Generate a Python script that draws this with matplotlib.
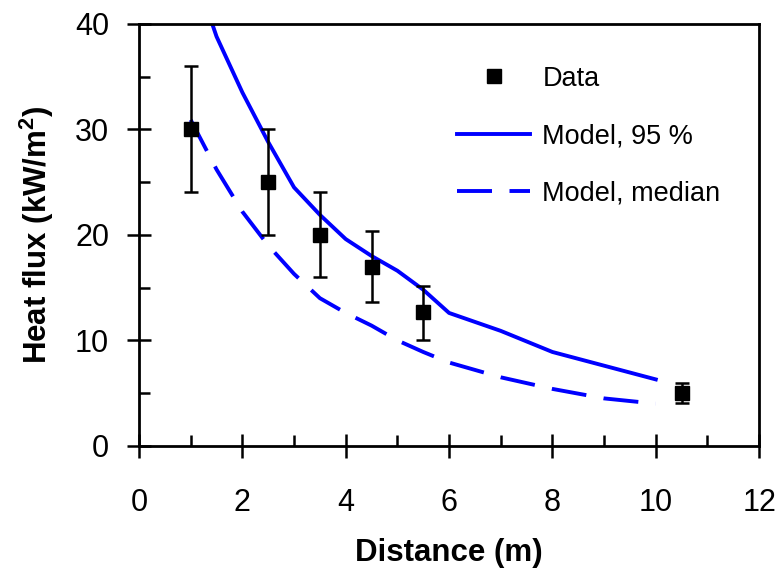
import numpy as np
import matplotlib
matplotlib.use('Agg')
import matplotlib.pyplot as plt
from matplotlib.ticker import MultipleLocator

plt.rcParams['font.family'] = ['Liberation Sans', 'DejaVu Sans']
plt.rcParams['mathtext.fontset'] = 'custom'
plt.rcParams['mathtext.rm'] = 'Liberation Sans'
plt.rcParams['mathtext.bf'] = 'Liberation Sans:bold'

# measured heat flux with error bars
data_x = [1.0, 2.5, 3.5, 4.5, 5.5, 10.5]
data_y = [30.0, 25.0, 20.0, 17.0, 12.7, 5.0]
data_lo = [24.1, 20.0, 16.0, 13.6, 10.0, 4.1]
data_hi = [36.0, 30.0, 24.1, 20.4, 15.2, 6.0]

# model curves
model_x = [1.0, 1.5, 2.0, 2.5, 3.0, 3.5, 4.0, 4.5, 5.0, 5.5, 6.0, 7.0, 8.0, 9.0, 10.0]
model_95 = [46.0, 38.8, 33.5, 28.8, 24.5, 21.9, 19.6, 18.0, 16.6, 14.8, 12.6, 10.9, 8.9, 7.6, 6.3]
model_med = [30.9, 26.2, 22.2, 19.0, 16.3, 14.0, 12.6, 11.4, 10.0, 8.9, 7.9, 6.5, 5.4, 4.5, 4.0]

fig = plt.figure(figsize=(7.81, 5.68), dpi=100)
ax = fig.add_axes([0.178, 0.215, 0.794, 0.743])

blue = '#0000ff'
yerr = [np.subtract(data_y, data_lo), np.subtract(data_hi, data_y)]
ax.errorbar(data_x, data_y, yerr=yerr, fmt='none', ecolor='black',
            elinewidth=1.8, capsize=5.2, capthick=1.8, zorder=3)
ax.plot(data_x, data_y, 's', color='black', markersize=10.5, label='Data', zorder=4)
ax.plot(model_x, model_95, '-', color=blue, lw=2.8, label='Model, 95 %')
ax.plot(model_x, model_med, '--', color=blue, lw=2.8, dashes=(9, 4.5),
        label='Model, median')

ax.set_xlim(0, 12)
ax.set_ylim(0, 40)
ax.xaxis.set_major_locator(MultipleLocator(2))
ax.xaxis.set_minor_locator(MultipleLocator(1))
ax.yaxis.set_major_locator(MultipleLocator(10))
ax.yaxis.set_minor_locator(MultipleLocator(5))
ax.tick_params(which='major', direction='inout', length=17, width=1.8,
               labelsize=22)
ax.tick_params(axis='x', which='major', pad=22)
ax.tick_params(axis='y', which='major', pad=13)
ax.tick_params(which='minor', direction='in', length=8, width=1.8)
for s in ax.spines.values():
    s.set_linewidth(2.0)

ax.set_xlabel('Distance (m)', fontsize=22.5, fontweight='bold', labelpad=14)
ax.set_ylabel(r'Heat flux (kW/m$^{\mathbf{2}}$)', fontsize=22.5,
              fontweight='bold', labelpad=14)

ax.legend(loc='upper right', frameon=False, fontsize=19.5, handlelength=2.7,
          labelspacing=1.15, bbox_to_anchor=(0.977, 0.958), handletextpad=0.45)

fig.savefig('out.png', dpi=100)
